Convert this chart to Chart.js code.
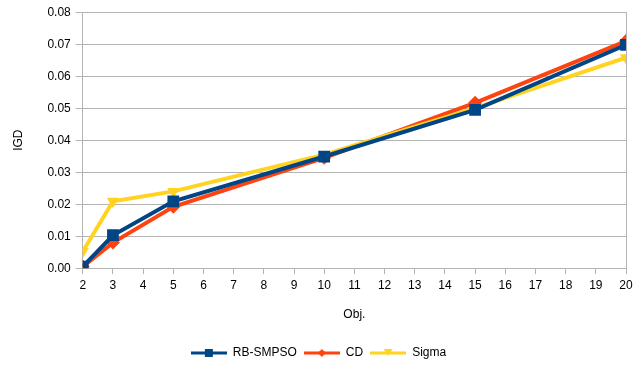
<!DOCTYPE html>
<html>
<head>
<meta charset="utf-8">
<script src="https://cdn.jsdelivr.net/npm/chart.js@4.4.1/dist/chart.umd.min.js"></script>
<style>
  html, body { margin: 0; padding: 0; background: #ffffff; }
  #wrap { width: 644px; height: 367px; }
</style>
</head>
<body>
<div id="wrap"><canvas id="c" width="644" height="367"></canvas></div>
<script>
// Number of objectives and the IGD reached by each algorithm
const objectives = [2, 3, 5, 10, 15, 20];
const rbSmpso = [0.0005, 0.0103, 0.0209, 0.0349, 0.0495, 0.0698];
const cd      = [0.0005, 0.0080, 0.0192, 0.0345, 0.0517, 0.0710];
const sigma   = [0.0052, 0.0209, 0.0240, 0.0355, 0.0500, 0.0658];
const seriesNames = ['RB-SMPSO', 'CD', 'Sigma'];
const seriesColors = ['#004586', '#ff420e', '#ffd320'];
const seriesMarkers = ['rect', 'rectRot', 'triangle'];

const FONT = '"Liberation Sans", Arial, sans-serif';

function pts(vals) { return objectives.map((x, i) => ({ x: x, y: vals[i] })); }

// Small legend swatch: a line segment with the series marker in its middle
function swatch(color, marker) {
  const cv = document.createElement('canvas');
  cv.width = 36; cv.height = 12;
  const g = cv.getContext('2d');
  g.strokeStyle = color; g.lineWidth = 3;
  g.beginPath(); g.moveTo(0, 6); g.lineTo(36, 6); g.stroke();
  g.fillStyle = color;
  g.beginPath();
  if (marker === 'rect') { g.rect(14, 2, 8, 8); }
  else if (marker === 'rectRot') { g.moveTo(18, 2); g.lineTo(22, 6); g.lineTo(18, 10); g.lineTo(14, 6); g.closePath(); }
  else { g.moveTo(13.5, 2); g.lineTo(22.5, 2); g.lineTo(18, 9); g.closePath(); }
  g.fill();
  return cv;
}

const datasetValues = [rbSmpso, cd, sigma];
const datasets = seriesNames.map((name, i) => ({
  label: name,
  data: pts(datasetValues[i]),
  borderColor: seriesColors[i],
  backgroundColor: seriesColors[i],
  borderWidth: 4,
  pointStyle: seriesMarkers[i],
  pointRotation: seriesMarkers[i] === 'triangle' ? 180 : 0,
  pointRadius: seriesMarkers[i] === 'rect' ? 8.3 : 7,
  pointBorderWidth: 0,
  tension: 0
}));
// draw order: RB-SMPSO on top, then Sigma, then CD
datasets[0].order = 0; datasets[1].order = 2; datasets[2].order = 1;

const frame = {
  id: 'frame',
  afterDraw(chart) {
    const a = chart.chartArea, g = chart.ctx;
    g.save();
    g.strokeStyle = '#b3b3b3'; g.lineWidth = 1;
    g.beginPath();
    g.moveTo(Math.round(a.right) + 0.5, a.top);
    g.lineTo(Math.round(a.right) + 0.5, a.bottom);
    g.stroke();
    g.restore();
  }
};

new Chart(document.getElementById('c'), {
  type: 'line',
  data: { datasets: datasets },
  plugins: [frame],
  options: {
    responsive: false,
    animation: false,
    devicePixelRatio: 1,
    layout: { padding: { top: 6, right: 18, left: 11, bottom: -2 } },
    scales: {
      x: {
        type: 'linear', min: 2, max: 20,
        ticks: { stepSize: 1, color: '#000', font: { family: FONT, size: 12 }, padding: 4 },
        grid: { drawOnChartArea: false, color: '#b3b3b3', tickLength: 6 },
        border: { color: '#b3b3b3' },
        title: { display: true, text: 'Obj.', color: '#000', font: { family: FONT, size: 12 }, padding: { top: 11, bottom: 18 } }
      },
      y: {
        min: 0, max: 0.08,
        ticks: { stepSize: 0.01, color: '#000', font: { family: FONT, size: 12 }, padding: 5,
                 callback: v => v.toFixed(2) },
        grid: { color: '#b3b3b3', tickLength: 7 },
        border: { color: '#b3b3b3' },
        title: { display: true, text: 'IGD', color: '#000', font: { family: FONT, size: 12 }, padding: { top: 0, bottom: 17 } }
      }
    },
    plugins: {
      legend: {
        position: 'bottom',
        labels: {
          usePointStyle: true,
          pointStyleWidth: 36,
          color: '#000',
          font: { family: FONT, size: 12 },
          boxHeight: 12,
          padding: 7,
          generateLabels(chart) {
            return seriesNames.map((n, i) => ({
              text: n, pointStyle: swatch(seriesColors[i], seriesMarkers[i]),
              fillStyle: seriesColors[i], strokeStyle: seriesColors[i], lineWidth: 0,
              datasetIndex: i, hidden: false
            }));
          }
        }
      },
      tooltip: { enabled: false }
    }
  }
});
</script>
</body>
</html>
